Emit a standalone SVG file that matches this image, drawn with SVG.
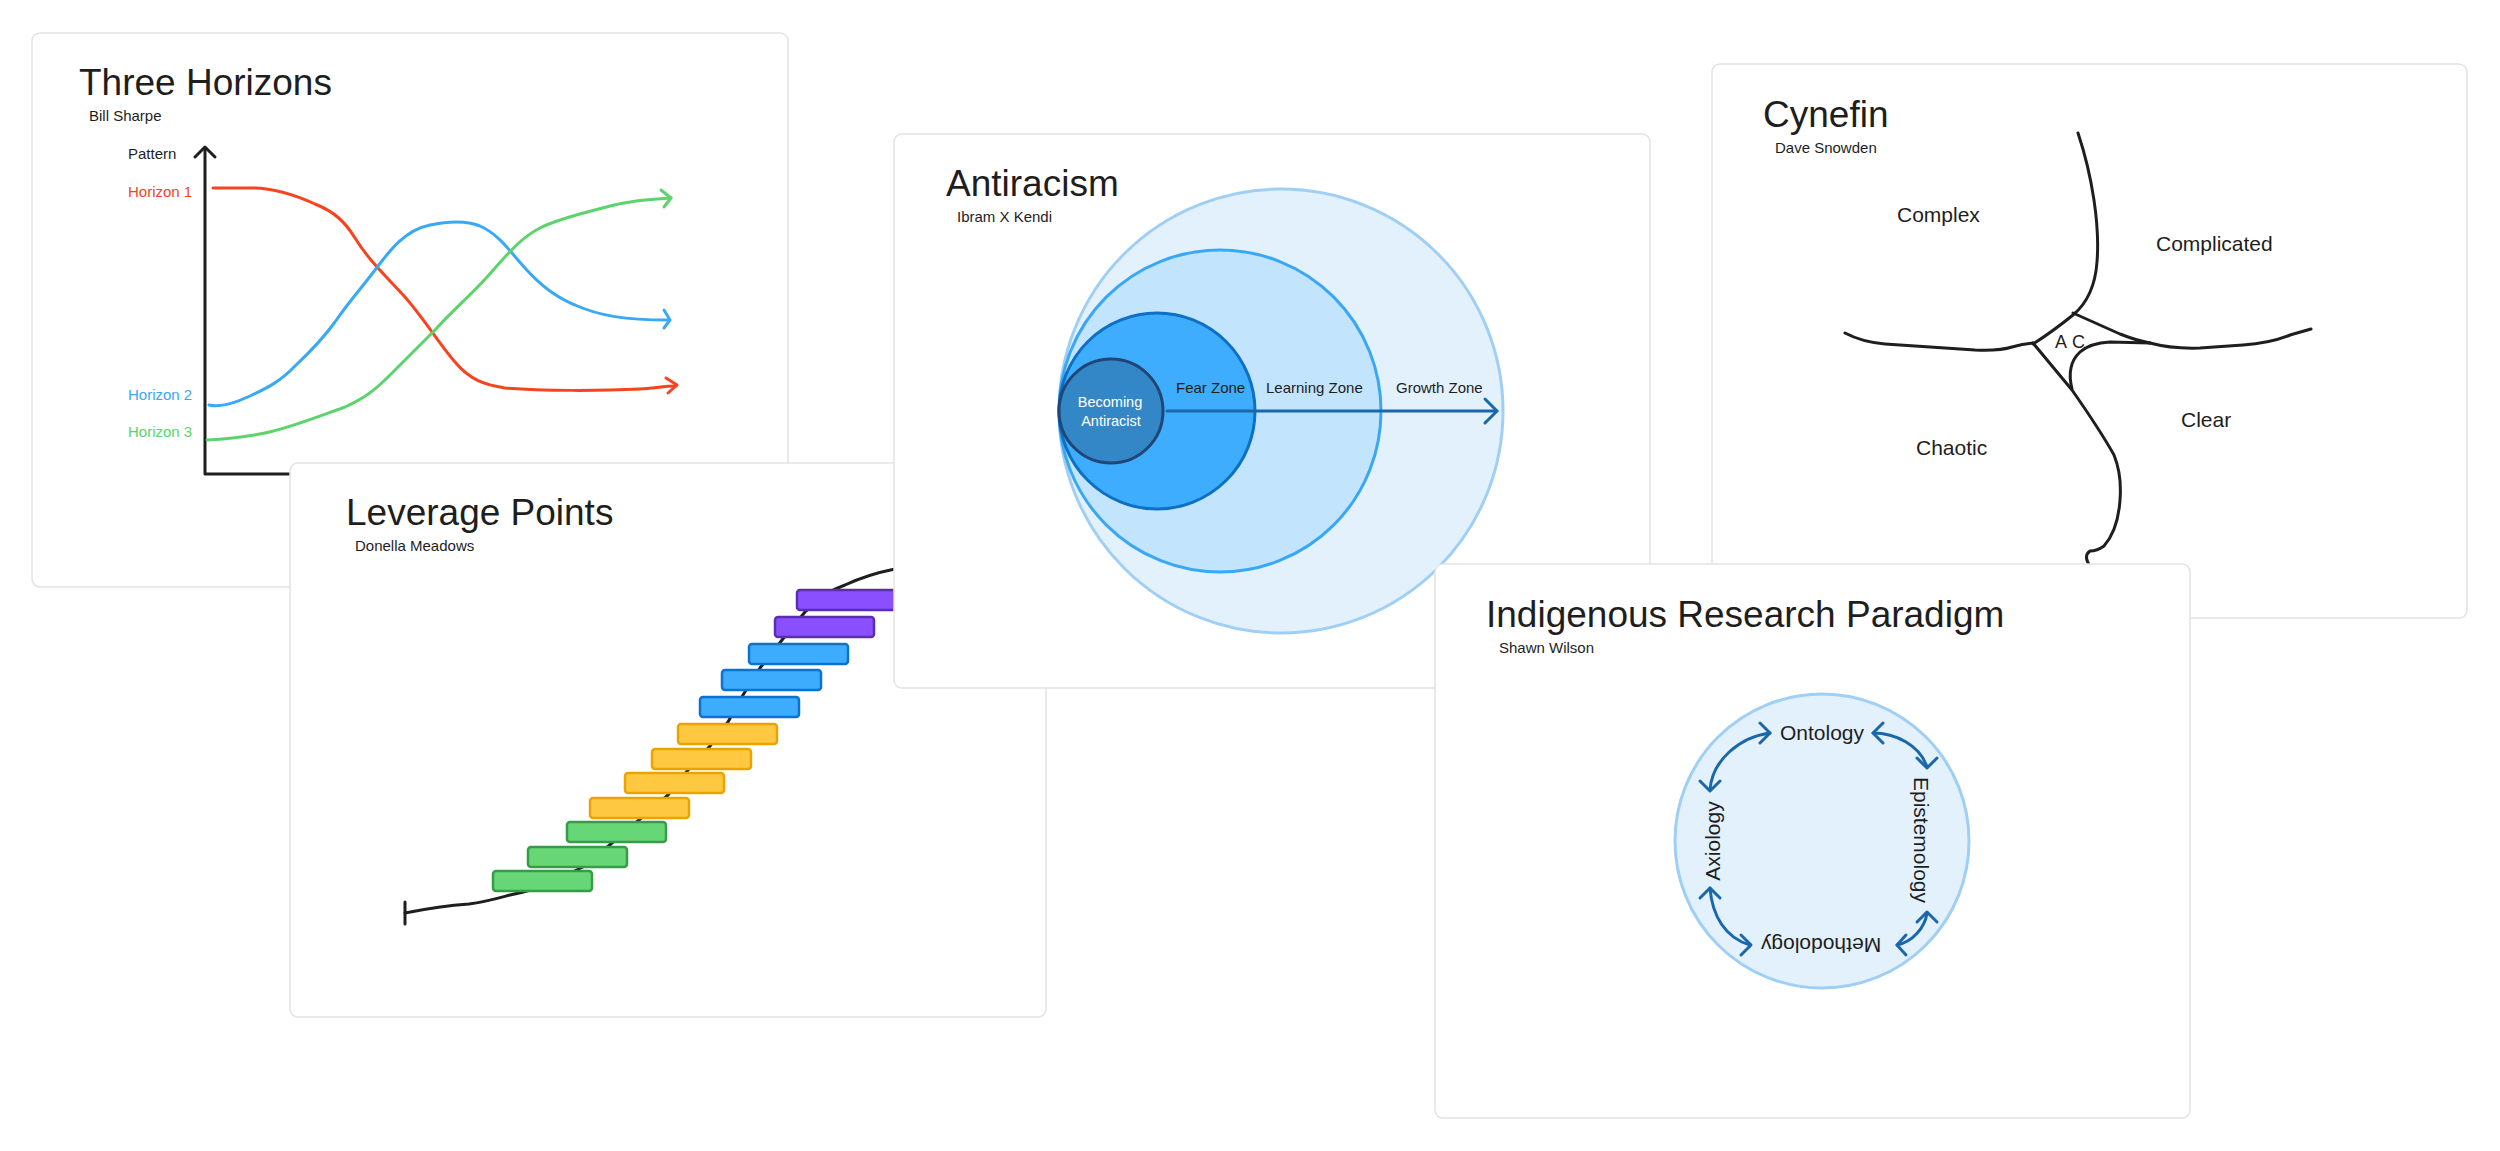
<svg xmlns="http://www.w3.org/2000/svg" width="2500" height="1151" viewBox="0 0 2500 1151">
<defs>
<style>
.card{fill:#ffffff;stroke:#e3e3e3;stroke-width:1.5}
.t{font-family:"Liberation Sans",Arial,sans-serif;fill:#1e1e1e}
.title{font-size:37px}
.sub{font-size:15px}
.lbl{font-size:15px}
.big{font-size:21px}
.ink{fill:none;stroke:#1e1e1e;stroke-width:3;stroke-linecap:round;stroke-linejoin:round}
.red{fill:none;stroke:#f5441f;stroke-width:3;stroke-linecap:round;stroke-linejoin:round}
.blue{fill:none;stroke:#3aa9f5;stroke-width:3;stroke-linecap:round;stroke-linejoin:round}
.green{fill:none;stroke:#5cd36b;stroke-width:3;stroke-linecap:round;stroke-linejoin:round}
.arr{fill:none;stroke:#1b67ab;stroke-width:3;stroke-linecap:round;stroke-linejoin:round}
.bar{stroke-width:2.5}
.g{fill:#67d677;stroke:#3a9a48}
.y{fill:#ffc840;stroke:#e9a302}
.b{fill:#3eacfc;stroke:#0b73cf}
.p{fill:#8a50ff;stroke:#5a2db4}
</style>
</defs>
<rect width="2500" height="1151" fill="#ffffff"/>

<g id="three-horizons">
<rect class="card" x="32" y="33" width="756" height="554" rx="8"/>
<text class="t title" x="79" y="95">Three Horizons</text>
<text class="t sub" x="89" y="121">Bill Sharpe</text>
<text class="t sub" x="128" y="159">Pattern</text>
<text class="t sub" x="128" y="197" style="fill:#f5441f">Horizon 1</text>
<text class="t sub" x="128" y="400" style="fill:#3aa9f5">Horizon 2</text>
<text class="t sub" x="128" y="437" style="fill:#5cd36b">Horizon 3</text>
<path class="ink" d="M205,148 L205,474 L620,474"/>
<path class="ink" d="M195,157 L205,147 L215,157"/>
<path class="red" d="M213,188 L252,188 C275,188 295,195 315,204 C335,212 345,222 355,238 C370,262 385,275 405,297 C425,320 440,345 455,362 C470,380 485,385 505,388 C540,391 600,391 640,389 C655,388 665,386 676,386"/>
<path class="red" d="M666,378 L677,385 L668,393"/>
<path class="blue" d="M209,405 C220,408 235,403 250,396 C265,389 280,382 295,366 C310,352 322,340 335,322 C350,300 360,290 375,270 C390,250 405,230 430,225 C445,222 465,220 480,226 C500,235 510,252 525,268 C540,285 555,297 575,305 C600,316 625,320 668,320"/>
<path class="blue" d="M664,310 L670,320 L664,328"/>
<path class="green" d="M207,440 C225,439 245,437 265,433 C290,428 320,416 345,407 C365,398 375,390 390,375 C405,360 420,345 435,330 C455,308 470,296 487,277 C505,257 520,238 540,228 C560,218 585,213 610,206 C630,201 650,199 671,198"/>
<path class="green" d="M661,190 L671,198 L664,207"/>
</g>

<g id="leverage-points">
<rect class="card" x="290" y="463" width="756" height="554" rx="8"/>
<text class="t title" x="346" y="525">Leverage Points</text>
<text class="t sub" x="355" y="551">Donella Meadows</text>
<path class="ink" d="M405,902 L405,924"/>
<path class="ink" d="M405,913 C420,910 440,906 469,904 C485,902 495,899 510,895 C525,892 535,889 545,885 L585,866 L612,843 L639,820 L668,795 L688,770 L710,746 L728,722 L743,695 L760,668 L782,640 L805,612 C820,598 830,590 845,585 C860,578 875,573 895,569 L930,562"/>
<rect class="bar g" x="493" y="871" width="99" height="20" rx="3"/>
<rect class="bar g" x="528" y="847" width="99" height="20" rx="3"/>
<rect class="bar g" x="567" y="822" width="99" height="20" rx="3"/>
<rect class="bar y" x="590" y="798" width="99" height="20" rx="3"/>
<rect class="bar y" x="625" y="773" width="99" height="20" rx="3"/>
<rect class="bar y" x="652" y="749" width="99" height="20" rx="3"/>
<rect class="bar y" x="678" y="724" width="99" height="20" rx="3"/>
<rect class="bar b" x="700" y="697" width="99" height="20" rx="3"/>
<rect class="bar b" x="722" y="670" width="99" height="20" rx="3"/>
<rect class="bar b" x="749" y="644" width="99" height="20" rx="3"/>
<rect class="bar p" x="775" y="617" width="99" height="20" rx="3"/>
<rect class="bar p" x="797" y="590" width="99" height="20" rx="3"/>
</g>

<g id="antiracism">
<rect class="card" x="894" y="134" width="756" height="554" rx="8"/>
<text class="t title" x="946" y="196">Antiracism</text>
<text class="t sub" x="957" y="222">Ibram X Kendi</text>
<circle cx="1281" cy="411" r="222" fill="#e3f1fd" stroke="#a0cff6" stroke-width="3"/>
<circle cx="1220" cy="411" r="161" fill="#c2e4fd" stroke="#3aa7f5" stroke-width="3"/>
<circle cx="1157" cy="411" r="98" fill="#3fadfd" stroke="#0d70c5" stroke-width="3"/>
<circle cx="1111" cy="411" r="52" fill="#3487c7" stroke="#1f4677" stroke-width="3"/>
<text class="t lbl" x="1110" y="407" text-anchor="middle" style="fill:#ffffff;font-size:14.5px">Becoming</text>
<text class="t lbl" x="1111" y="426" text-anchor="middle" style="fill:#ffffff;font-size:14.5px">Antiracist</text>
<text class="t lbl" x="1176" y="393">Fear Zone</text>
<text class="t lbl" x="1266" y="393">Learning Zone</text>
<text class="t lbl" x="1396" y="393">Growth Zone</text>
</g>

<g id="cynefin">
<rect class="card" x="1712" y="64" width="755" height="554" rx="8"/>
<text class="t title" x="1763" y="127">Cynefin</text>
<text class="t sub" x="1775" y="153">Dave Snowden</text>
<path class="ink" d="M2078,133 C2092,175 2100,225 2097,262 C2095,290 2085,305 2073,315 Q2052,332 2033,344"/>
<path class="ink" d="M1845,333 Q1862,342 1885,344 L1975,350 Q2000,351 2012,347 Q2022,344 2033,343"/>
<path class="ink" d="M2033,343 L2072,390 Q2100,430 2114,455 Q2122,475 2120,500 Q2118,530 2104,546 Q2097,551 2090,551 Q2083,556 2090,566"/>
<path class="ink" d="M2073,313 Q2100,325 2120,334 Q2138,341 2150,343"/>
<path class="ink" d="M2150,343 Q2172,349 2200,348 L2243,345 Q2270,343 2290,335 L2311,329"/>
<path class="ink" d="M2072,389 Q2066,365 2080,352 Q2090,343 2110,342 L2150,343"/>
<text class="t" x="2055" y="348" style="font-size:18px;letter-spacing:5px">AC</text>
<text class="t big" x="1897" y="222">Complex</text>
<text class="t big" x="2156" y="251">Complicated</text>
<text class="t big" x="1916" y="455">Chaotic</text>
<text class="t big" x="2181" y="427">Clear</text>
</g>

<g id="indigenous-research-paradigm">
<rect class="card" x="1435" y="564" width="755" height="554" rx="8"/>
<text class="t title" x="1486" y="627">Indigenous Research Paradigm</text>
<text class="t sub" x="1499" y="653">Shawn Wilson</text>
<circle cx="1822" cy="841" r="147" fill="#e3f1fd" stroke="#a0cff6" stroke-width="3"/>
<text class="t big" x="1822" y="740" text-anchor="middle">Ontology</text>
<text class="t big" text-anchor="middle" transform="translate(1914,840) rotate(90)">Epistemology</text>
<text class="t big" text-anchor="middle" transform="translate(1821,938) rotate(180)">Methodology</text>
<text class="t big" text-anchor="middle" transform="translate(1720,841) rotate(-90)">Axiology</text>
</g>

<g id="connectors">
<path class="arr" d="M1167,411 L1497,411"/>
<path class="arr" d="M1485,399 L1497,411 L1485,423"/>
<path class="arr" d="M1873,733 C1895,733 1920,745 1927,767"/>
<path class="arr" d="M1883,723 L1873,733 L1883,743 M1917,758 L1927,768 L1937,758"/>
<path class="arr" d="M1770,733 C1740,737 1712,760 1710,790"/>
<path class="arr" d="M1760,723 L1770,733 L1760,743 M1700,781 L1710,791 L1720,781"/>
<path class="arr" d="M1710,888 C1712,915 1725,938 1750,945"/>
<path class="arr" d="M1700,898 L1710,888 L1720,898 M1741,935 L1751,945 L1741,955"/>
<path class="arr" d="M1897,945 C1912,942 1925,928 1927,913"/>
<path class="arr" d="M1906,935 L1897,945 L1906,955 M1917,922 L1927,912 L1937,922"/>
</g>
</svg>
